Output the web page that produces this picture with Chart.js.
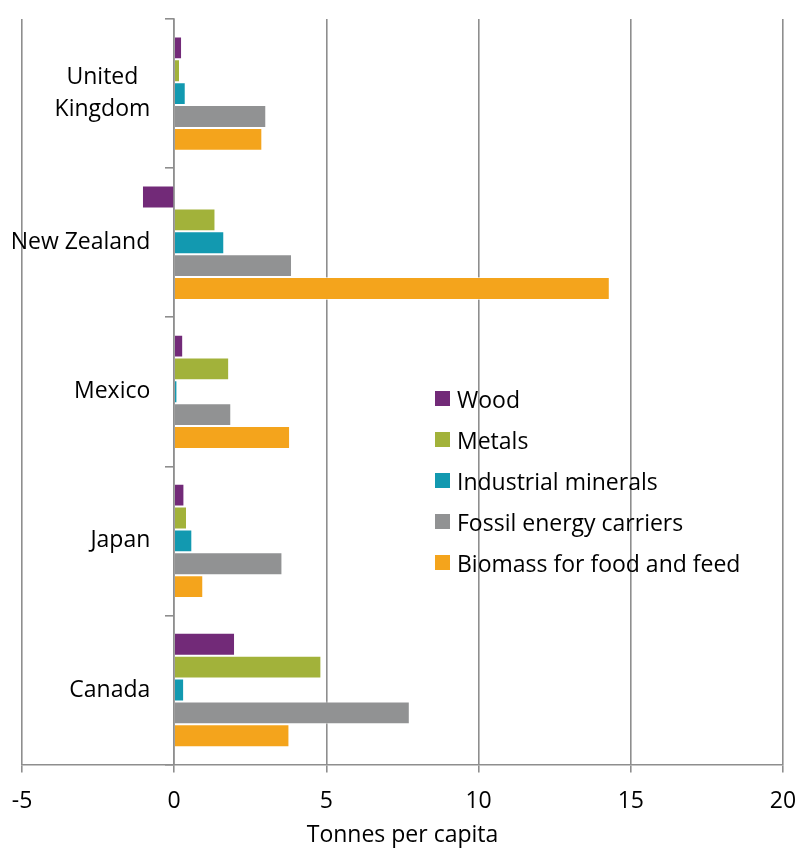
<!DOCTYPE html>
<html>
<head>
<meta charset="utf-8">
<script src="https://cdn.jsdelivr.net/npm/chart.js@4"></script>
<style>
  html, body { margin: 0; padding: 0; background: #fff; }
  #wrap { position: relative; width: 799px; height: 851px; }
  #legend { position: absolute; left: 435px; top: 378px; font-family: "Open Sans", sans-serif; font-size: 23px; color: #000; }
  #legend .row { display: flex; align-items: center; height: 41px; }
  #legend .box { width: 15px; height: 15px; margin-right: 7px; }
</style>
</head>
<body>
<div id="wrap">
  <canvas id="chart"></canvas>
  <div id="legend"></div>
</div>
<script>
// Countries, top to bottom
const countries = [['United', 'Kingdom'], 'New Zealand', 'Mexico', 'Japan', 'Canada'];

// Tonnes per capita, one value per country
const wood       = [0.23, -1.03, 0.27, 0.31, 1.97];
const metals     = [0.16, 1.33, 1.78, 0.39, 4.81];
const industrial = [0.35, 1.62, 0.08, 0.57, 0.30];
const fossil     = [3.00, 3.84, 1.85, 3.53, 7.71];
const biomass    = [2.87, 14.28, 3.78, 0.93, 3.76];

const seriesNames = ['Wood', 'Metals', 'Industrial minerals', 'Fossil energy carriers', 'Biomass for food and feed'];
const seriesColors = ['#722a78', '#a2b23a', '#1299b0', '#919293', '#f4a41c'];

const xTicks = [-5, 0, 5, 10, 15, 20];

const gridGray = '#8e8e8e';
const fontFamily = '"Open Sans", sans-serif';
const fontSize = 23;

const datasets = [wood, metals, industrial, fossil, biomass].map(function(values, i) {
    return {
        label: seriesNames[i],
        data: values,
        backgroundColor: seriesColors[i],
        borderColor: 'rgba(255, 255, 255, 0.6)',
        borderWidth: { top: 1, bottom: 1, left: 0, right: 0 },
        borderSkipped: false,
        categoryPercentage: 0.767,
        barPercentage: 1.0
    };
});

// HTML legend placed inside the plot
const legendEl = document.getElementById('legend');
seriesNames.forEach(function(name, i) {
    const row = document.createElement('div');
    row.className = 'row';
    const box = document.createElement('span');
    box.className = 'box';
    box.style.background = seriesColors[i];
    const txt = document.createElement('span');
    txt.textContent = name;
    row.appendChild(box);
    row.appendChild(txt);
    legendEl.appendChild(row);
});

// The y axis sits on x = 0 and Chart.js ignores tick padding there,
// so labels get trailing spaces; multi-line labels are centred the same way.
const measure = document.createElement('canvas').getContext('2d');
measure.font = fontSize + 'px ' + fontFamily;
const spaceW = measure.measureText(' ').width;
const gapSpaces = '    ';
function padLabel(label) {
    if (!Array.isArray(label)) return label + gapSpaces;
    const widths = label.map(function(s) { return measure.measureText(s).width; });
    const maxW = Math.max.apply(null, widths);
    return label.map(function(s, i) {
        const n = Math.round((maxW - widths[i]) / 2 / spaceW);
        return s + ' '.repeat(n) + gapSpaces;
    });
}

const ctx = document.getElementById('chart').getContext('2d');
new Chart(ctx, {
    type: 'bar',
    data: { labels: countries, datasets: datasets },
    options: {
        indexAxis: 'y',
        responsive: true,
        maintainAspectRatio: false,
        animation: false,
        layout: { padding: { left: 22, right: 16, top: 7, bottom: 1 } },
        scales: {
            x: {
                min: xTicks[0],
                max: xTicks[xTicks.length - 1],
                afterFit: function(scale) {
                    scale.paddingLeft = 0;
                    scale.paddingRight = 0;
                },
                ticks: {
                    stepSize: xTicks[1] - xTicks[0],
                    color: '#000',
                    font: { family: fontFamily, size: fontSize, lineHeight: 1.0 },
                    padding: 17
                },
                grid: {
                    color: gridGray,
                    lineWidth: 1.6,
                    tickLength: 8
                },
                border: { color: gridGray, width: 1.6 },
                title: {
                    display: true,
                    text: 'Tonnes per capita',
                    color: '#000',
                    font: { family: fontFamily, size: fontSize, lineHeight: 0.5 },
                    padding: { top: 0, bottom: 9 }
                }
            },
            y: {
                position: { x: 0 },
                ticks: {
                    color: '#000',
                    font: { family: fontFamily, size: fontSize, lineHeight: 1.4 },
                    callback: function(value) {
                        return padLabel(countries[value]);
                    }
                },
                grid: {
                    drawOnChartArea: false,
                    color: gridGray,
                    lineWidth: 1.6,
                    tickLength: 8
                },
                border: { color: gridGray, width: 1.6 }
            }
        },
        plugins: {
            legend: { display: false },
            tooltip: { enabled: false }
        }
    }
});
</script>
</body>
</html>
